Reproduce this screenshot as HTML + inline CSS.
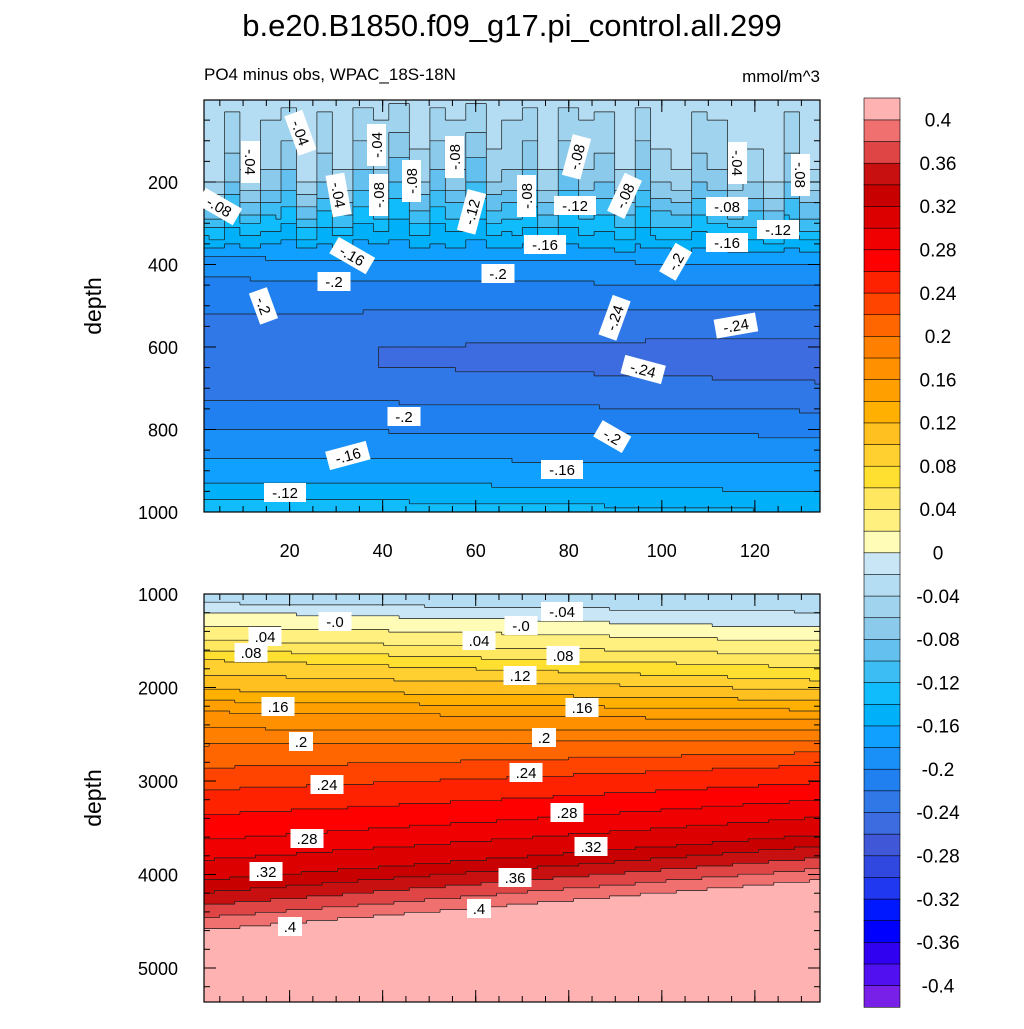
<!DOCTYPE html>
<html><head><meta charset="utf-8"><style>
body{margin:0;background:#fff;}
svg text{font-family:"Liberation Sans",sans-serif;}
</style></head><body>
<svg id="s" width="1024" height="1024" xmlns="http://www.w3.org/2000/svg">
<defs>
<clipPath id="ct"><rect x="204" y="100" width="616" height="412"/></clipPath>
<clipPath id="cbt"><rect x="204" y="594" width="616" height="408"/></clipPath>
</defs>
<text x="512" y="36" font-size="31" text-anchor="middle">b.e20.B1850.f09_g17.pi_control.all.299</text>
<text x="204" y="80" font-size="17">PO4 minus obs, WPAC_18S-18N</text>
<text x="820" y="82" font-size="17" text-anchor="end">mmol/m^3</text>
<text transform="translate(101,306) rotate(-90)" font-size="23" text-anchor="middle">depth</text>
<text transform="translate(101,798) rotate(-90)" font-size="23" text-anchor="middle">depth</text>
<g id="topCells" clip-path="url(#ct)"></g>
<g id="botCells" clip-path="url(#cbt)"></g>
<g id="topPanel"></g>
<g id="botPanel"></g>
<g id="cb"></g>
</svg>
<script>
const colors=["#7820e8","#5010f0","#3000f0","#0000ff","#0018ff","#2038f0","#3048e0","#4058d8","#3c6ce0","#3078e8","#2080f0","#1890f8","#10a0ff","#00b0f8","#10bcfc","#3cbef4","#64c0ee","#8ccaec","#a0d4ee","#b4dcf2","#c8e6f6","#fffcb8","#fff080","#ffe860","#ffe030","#ffd030","#ffc020","#ffb000","#ffa000","#ff9000","#ff8000","#ff6600","#ff4400","#ff2200","#ff0000","#f00000","#dd0000","#c80000","#c81010","#e04545","#f07070","#ffb2b2"];
const cbLabels=["0.4","0.36","0.32","0.28","0.24","0.2","0.16","0.12","0.08","0.04","0","-0.04","-0.08","-0.12","-0.16","-0.2","-0.24","-0.28","-0.32","-0.36","-0.4"];
const topDepths=[0,100,150,200,250,300,350,400,450,500,550,600,650,700,750,800,850,900,950,1000];
const topLeft=[-0.035,-0.045,-0.055,-0.07,-0.10,-0.13,-0.16,-0.19,-0.205,-0.215,-0.228,-0.238,-0.238,-0.228,-0.212,-0.20,-0.185,-0.17,-0.15,-0.12];
const topRight=[-0.035,-0.045,-0.055,-0.07,-0.095,-0.12,-0.15,-0.18,-0.20,-0.218,-0.235,-0.245,-0.245,-0.238,-0.222,-0.205,-0.19,-0.175,-0.16,-0.14];
const topNoise=[0.03,-0.01,0.02,0.0,-0.02,0.03,-0.01,0.02,-0.02,0.0,-0.03,0.01,-0.02,0.0,-0.03,0.01,0.0,-0.02,0.02,-0.02,0.0,-0.01,0.02,-0.02,0.01,0.02,-0.01,0.0,0.02,0.01,0.03,-0.01,0.02];
const botLevels=[-0.04,-0.02,0,0.04,0.08,0.12,0.16,0.2,0.24,0.28,0.32,0.36,0.4,0.42];
const botLeft=[1000,1096,1193,1492,1706,2027,2262,2615,3096,3631,4059,4326,4594,4647];
const botRight=[950,1193,1364,1652,1920,2134,2348,2561,2829,3203,3577,3823,4059,4198];
const NS="http://www.w3.org/2000/svg";
function mk(tag,at,parent){const e=document.createElementNS(NS,tag);for(const k in at)e.setAttribute(k,at[k]);parent.appendChild(e);return e;}
function binOf(v){let i=Math.floor((v+0.42)/0.02);return Math.max(0,Math.min(41,i));}
function interp(xs,ys,x){if(x<=xs[0])return ys[0];for(let i=1;i<xs.length;i++){if(x<=xs[i]){const t=(x-xs[i-1])/(xs[i]-xs[i-1]);return ys[i-1]+t*(ys[i]-ys[i-1]);}}return ys[ys.length-1];}
const X0=204,X1=820,xmin=1.6,xmax=134;
const xs=v=>X0+(v-xmin)/(xmax-xmin)*(X1-X0);
const ty=d=>99.5+d*0.4125; const by=d=>594+(d-1000)*0.0935;
const topC=document.getElementById('topCells'),botC=document.getElementById('botCells');
const topG=document.getElementById('topPanel'),botG=document.getElementById('botPanel'),cb=document.getElementById('cb');
function drawGrid(g,nc,nr,d0,d1,yf,valf,name){
 const B=[];
 for(let j=0;j<nr;j++){const row=[];const da=d0+(d1-d0)*j/nr,db=d0+(d1-d0)*(j+1)/nr,dm=(da+db)/2;
  for(let i=0;i<nc;i++){const f=(i+0.5)/nc;const b=binOf(valf(f,dm,i));row.push(b);
   const r=mk('rect',{x:X0+(X1-X0)*i/nc,y:yf(da),width:(X1-X0)/nc+0.6,height:yf(db)-yf(da)+0.6,fill:colors[b]},g);
   
   }
  B.push(row);}
 let p='';const cw=(X1-X0)/nc;
 for(let j=0;j<nr;j++){const ya=yf(d0+(d1-d0)*j/nr),yb=yf(d0+(d1-d0)*(j+1)/nr);
  for(let i=0;i<nc;i++){const x=X0+cw*i;
   if(i+1<nc&&B[j][i+1]!==B[j][i]&&(Math.floor(B[j][i]/2)!==Math.floor(B[j][i+1]/2)||true))p+=`M${(x+cw).toFixed(1)} ${ya.toFixed(1)}V${yb.toFixed(1)}`;
   if(j+1<nr&&B[j+1][i]!==B[j][i])p+=`M${x.toFixed(1)} ${yb.toFixed(1)}H${(x+cw).toFixed(1)}`;}}
 const pl=mk('path',{d:p,stroke:'#1a1a1a','stroke-width':0.7,fill:'none'},g);
 
 
}
drawGrid(topC,120,100,0,1000,ty,(f,dm,i)=>{
 let v=interp(topDepths,topLeft,dm)*(1-f)+interp(topDepths,topRight,dm)*f;
 const n=topNoise[Math.floor(f*topNoise.length)];
 const w=dm<380?Math.sin(Math.PI*dm/380):0;
 return v+n*w;},'top-cell');
const D1=5364;
drawGrid(botC,120,150,1000,D1,by,(f,dm)=>{
 const deps=botLeft.map((a,k)=>a*(1-f)+botRight[k]*f);
 return dm>deps[deps.length-1]?0.43:interp(deps,botLevels,dm);},'bottom-cell');
function frame(g,y0,y1,yt,ylab,minor,showX){
 mk('rect',{x:X0,y:y0,width:X1-X0,height:y1-y0,fill:'none',stroke:'#000','stroke-width':1.2},g);
 [20,40,60,80,100,120].forEach(v=>{mk('line',{x1:xs(v),y1:y1,x2:xs(v),y2:y1-12,stroke:'#000'},g);mk('line',{x1:xs(v),y1:y0,x2:xs(v),y2:y0+12,stroke:'#000'},g);
  if(showX){const t=mk('text',{x:xs(v),y:y1+45,'font-size':18,'text-anchor':'middle'},g);t.textContent=v;}});
 for(let v=5;v<134;v+=5){mk('line',{x1:xs(v),y1:y1,x2:xs(v),y2:y1-6,stroke:'#000'},g);mk('line',{x1:xs(v),y1:y0,x2:xs(v),y2:y0+6,stroke:'#000'},g);}
 ylab.forEach(d=>{const y=yt(d);mk('line',{x1:X0,y1:y,x2:X0+12,y2:y,stroke:'#000'},g);mk('line',{x1:X1,y1:y,x2:X1-12,y2:y,stroke:'#000'},g);
  const t=mk('text',{x:X0-26,y:y+7,'font-size':18,'text-anchor':'end'},g);t.textContent=d;});
 minor.forEach(d=>{const y=yt(d);mk('line',{x1:X0,y1:y,x2:X0+6,y2:y,stroke:'#000'},g);mk('line',{x1:X1,y1:y,x2:X1-6,y2:y,stroke:'#000'},g);});
}
const mt=[];for(let d=50;d<1000;d+=50)mt.push(d);
frame(topG,100,512,ty,[200,400,600,800,1000],mt,true);
const mb=[];for(let d=1200;d<5364;d+=200)mb.push(d);
frame(botG,594,1002,by,[1000,2000,3000,4000,5000],mb,false);
function lab(g,x,y,s,rot){const gg=mk('g',{transform:`translate(${x},${y}) rotate(${rot||0})`},g);
 const w=s.length*9+6;mk('rect',{x:-w/2,y:-10,width:w,height:19,fill:'#fff'},gg);
 const t=mk('text',{x:0,y:5,'font-size':15,'text-anchor':'middle'},gg);t.textContent=s;
 }
[[250,162,'-.04',90],[300,133,'-.04',70],[377,145,'-.04',-90],[338,195,'-.04',80],[379,195,'-.08',-90],[412,181,'-.08',-90],[455,157,'-.08',-90],[472,212,'-.12',-75],[527,196,'-.08',-90],[575,206,'-.12',0],[577,157,'-.08',-75],[625,196,'-.08',-65],[727,207,'-.08',0],[778,230,'-.12',0],[737,163,'-.04',90],[800,175,'-.08',90],[219,207,'-.08',30],[352,256,'-.16',30],[545,245,'-.16',0],[727,243,'-.16',0],[676,262,'-.2',-60],[498,274,'-.2',0],[334,282,'-.2',0],[263,306,'-.2',70],[615,318,'-.24',-70],[736,326,'-.24',-10],[643,370,'-.24',15],[404,417,'-.2',0],[612,437,'-.2',30],[348,456,'-.16',-15],[562,470,'-.16',0],[285,493,'-.12',0]].forEach(a=>lab(topG,a[0],a[1],a[2],a[3]));
[[335,622,'-.0'],[562,612,'-.04'],[521,626,'-.0'],[265,637,'.04'],[479,641,'.04'],[251,653,'.08'],[563,656,'.08'],[520,676,'.12'],[278,707,'.16'],[582,708,'.16'],[301,742,'.2'],[544,738,'.2'],[327,785,'.24'],[526,773,'.24'],[567,813,'.28'],[307,839,'.28'],[591,847,'.32'],[266,872,'.32'],[515,878,'.36'],[479,909,'.4'],[290,927,'.4']].forEach(a=>lab(botG,a[0],a[1],a[2],0));
const cy0=98,cy1=1007,bh=(cy1-cy0)/42;
for(let i=0;i<42;i++){const r=mk('rect',{x:864,y:cy0+(41-i)*bh,width:36,height:bh+0.3,fill:colors[i],stroke:'#000','stroke-width':0.6},cb);
 }
cbLabels.forEach((s,k)=>{const t=mk('text',{x:938,y:cy0+(k+1)*bh*2-bh+7,'font-size':19,'text-anchor':'middle'},cb);t.textContent=s;
 });
</script>
</body></html>
